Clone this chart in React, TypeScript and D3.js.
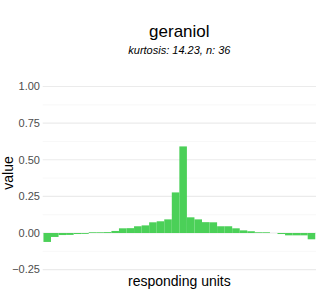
import React from "react";
import * as d3 from "d3";

const title = "geraniol";
const subtitle = "kurtosis: 14.23, n: 36";
const xLabel = "responding units";
const yLabel = "value";
const units = d3.range(1, 37);
const values = [
  -0.061, -0.027, -0.014, -0.013, -0.007, -0.006, 0.005, 0.005, 0.006, 0.014,
  0.032, 0.033, 0.046, 0.052, 0.073, 0.08, 0.093, 0.277, 0.591, 0.107,
  0.093, 0.074, 0.073, 0.046, 0.046, 0.032, 0.018, 0.012, 0.005, 0.005,
  0.0, -0.007, -0.016, -0.016, -0.016, -0.043,
];
const majorTicks = [-0.25, 0, 0.25, 0.5, 0.75, 1];
const minorTicks = [-0.125, 0.125, 0.375, 0.625, 0.875];

const W = 320;
const H = 300;
const left = 42.7;
const right = 316;
const font = "'Liberation Sans', Arial, sans-serif";

export default function App() {
  const x = d3.scaleLinear().domain([0.4, 36.6]).range([left, right]);
  const y = d3.scaleLinear().domain([0, 1]).range([233, 86.5]);
  const cx = (left + right) / 2;
  const fmt = d3.format(".2f");
  return (
    <svg
      width={W}
      height={H}
      style={{ position: "absolute", left: 0, top: 0, background: "#fff" }}
      fontFamily={font}
    >
      {minorTicks.map((t) => (
        <line key={"m" + t} x1={left} x2={right} y1={y(t)} y2={y(t)} stroke="#F4F4F4" strokeWidth={0.6} />
      ))}
      {majorTicks.map((t) => (
        <line key={"M" + t} x1={left} x2={right} y1={y(t)} y2={y(t)} stroke="#EBEBEB" strokeWidth={1.1} />
      ))}
      {values.map((v, i) => (
        <rect
          key={i}
          x={x(units[i] - 0.5)}
          width={x(units[i] + 0.5) - x(units[i] - 0.5)}
          y={y(Math.max(0, v))}
          height={Math.abs(y(v) - y(0))}
          fill="#4BD058"
        />
      ))}
      {majorTicks.map((t) => (
        <text key={"t" + t} x={40} y={y(t)} dy="0.35em" textAnchor="end" fontSize={11} fill="#4D4D4D">
          {fmt(t)}
        </text>
      ))}
      <text x={cx} y={36.5} textAnchor="middle" fontSize={17} fill="#000">
        {title}
      </text>
      <text x={cx} y={53.5} textAnchor="middle" fontSize={11} fontStyle="italic" fill="#000">
        {subtitle}
      </text>
      <text x={cx} y={286} textAnchor="middle" fontSize={14} fill="#000">
        {xLabel}
      </text>
      <text
        transform={`translate(12.5,${173}) rotate(-90)`}
        textAnchor="middle"
        fontSize={14}
        fill="#000"
      >
        {yLabel}
      </text>
    </svg>
  );
}
